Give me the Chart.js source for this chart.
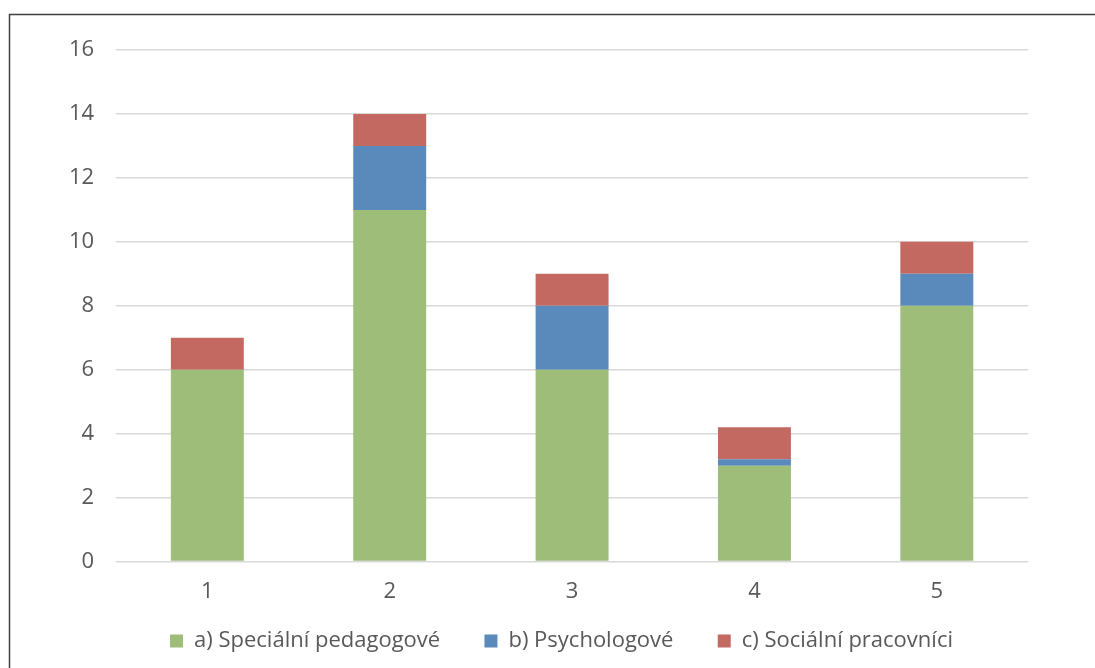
<!DOCTYPE html>
<html>
<head>
<meta charset="utf-8">
<script src="https://cdn.jsdelivr.net/npm/chart.js@4/dist/chart.umd.min.js"></script>
<style>
  body { margin: 0; background: #fff; }
  #wrap { position: relative; width: 1095px; height: 668px; }
</style>
</head>
<body>
<div id="wrap"><canvas id="graf" width="1095" height="668"></canvas></div>
<script>
// Data
const kategorie = ['1', '2', '3', '4', '5'];
const specialniPedagogove = [6, 11, 6, 3, 8];
const psychologove = [0, 2, 2, 0.2, 1];
const socialniPracovnici = [1, 1, 1, 1, 1];
const nazvySerii = ['a) Speciální pedagogové', 'b) Psychologové', 'c) Sociální pracovníci'];

const barvy = ['rgb(157, 189, 121)', 'rgb(89, 138, 187)', 'rgb(196, 104, 98)'];
const pismo = { family: 'Open Sans', size: 22 };

// rámeček kolem grafu (vlevo a nahoře) + posun legendy
const ramecek = {
    id: 'ramecek',
    afterLayout(chart) {
        chart.legend.left += 24;
        chart.legend.right += 24;
    },
    afterDraw(chart) {
        const ctx = chart.ctx;
        ctx.save();
        ctx.strokeStyle = '#3f3f3f';
        ctx.lineWidth = 1.5;
        ctx.beginPath();
        ctx.moveTo(9.5, 668);
        ctx.lineTo(9.5, 14.5);
        ctx.lineTo(1095, 14.5);
        ctx.stroke();
        ctx.restore();
    }
};

const ctx = document.getElementById('graf').getContext('2d');
new Chart(ctx, {
    type: 'bar',
    data: {
        labels: kategorie,
        datasets: [
            { label: nazvySerii[0], data: specialniPedagogove, backgroundColor: barvy[0] },
            { label: nazvySerii[1], data: psychologove, backgroundColor: barvy[1] },
            { label: nazvySerii[2], data: socialniPracovnici, backgroundColor: barvy[2] }
        ]
    },
    options: {
        responsive: false,
        animation: false,
        categoryPercentage: 1,
        barPercentage: 0.4,
        layout: { padding: { left: 47, right: 67, top: 50, bottom: 6 } },
        plugins: {
            tooltip: { enabled: false },
            legend: {
                position: 'bottom',
                labels: {
                    boxWidth: 13,
                    boxHeight: 13,
                    padding: 10,
                    color: '#595959',
                    font: pismo,
                    // mezery navíc mezi položkami legendy
                    generateLabels(chart) {
                        const items = Chart.defaults.plugins.legend.labels.generateLabels(chart);
                        items.forEach((it, i) => {
                            if (i < items.length - 1) it.text += '      ';
                        });
                        return items;
                    }
                }
            }
        },
        scales: {
            x: {
                stacked: true,
                grid: { display: false },
                border: { display: false },
                ticks: { color: '#595959', padding: 9, font: pismo },
                afterFit(scale) { scale.height += 6; }
            },
            y: {
                stacked: true,
                min: 0,
                max: 16,
                ticks: { stepSize: 2, color: '#595959', padding: 22, font: pismo },
                grid: { color: '#d9d9d9', lineWidth: 1.5, drawTicks: false },
                border: { display: false }
            }
        }
    },
    plugins: [ramecek]
});
</script>
</body>
</html>
